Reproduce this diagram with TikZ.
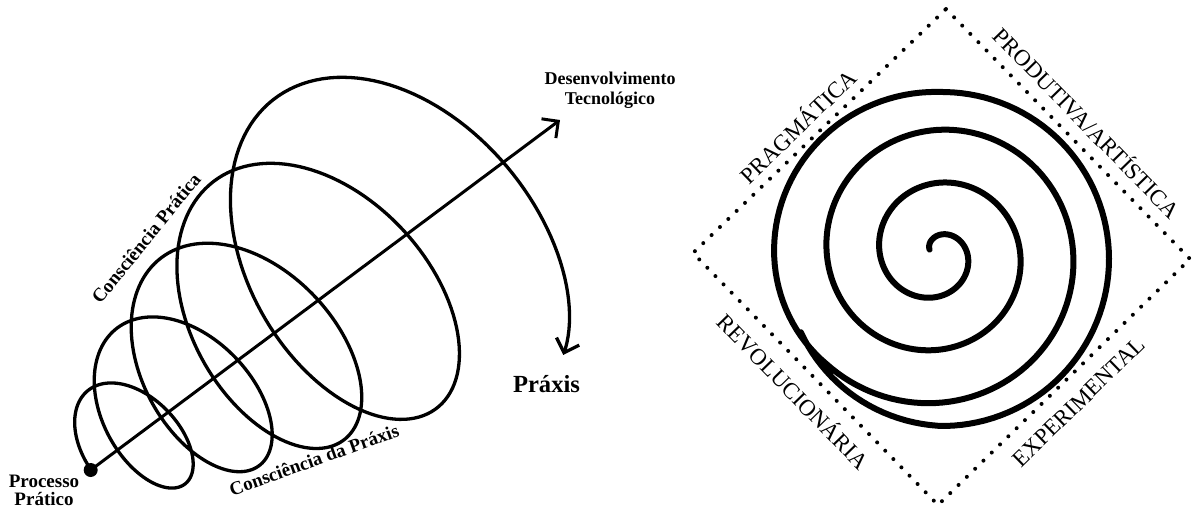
\documentclass[tikz,border=0pt]{standalone}
\usepackage{fontspec}
\setmainfont{Liberation Serif}
\usetikzlibrary{arrows.meta}

\tikzset{
  helix/.style={line width=1.65pt, line cap=round},
  barb/.style={-{Straight Barb[length=6pt,width=12pt]}},
  leftlabel/.style={font=\bfseries\fontsize{9.5}{9}\selectfont, align=center, inner sep=0pt},
  coil/.style={line width=3pt, line cap=round},
  dotline/.style={line width=2pt, line cap=round, dash pattern=on 0pt off 5.8pt},
  sidelabel/.style={font=\fontsize{11.5}{12}\selectfont, inner sep=0pt, sloped,
    text height=7.6pt, text depth=0pt}
}

\begin{document}
\begin{tikzpicture}[x=0.5pt,y=0.5pt,
  declare function={
    hs(\x)=32.4+32.15*\x+1.2*\x*\x+(36.6+10*\x)*sin(180*\x)+15.4*exp(-(\x+0.5));
    hr(\x)=60+15*\x+14*max(\x-8,0)*max(\x-8,0);
    hy(\x)=hr(\x)*cos(180*\x)+8*(1-exp(-2*(\x+0.5)));
    bw(\x)=min(max((\x-10.5)/1.5,0),1);
    br(\x)=(1-bw(\x))*(17.25+13.25*\x)+bw(\x)*167-8*min(max((\x-14)/0.7,0),1);
  }]
\useasboundingbox (0,0) rectangle (1193,511);

% left: praxis helix
\coordinate (dot) at (90.7,41);
\coordinate (tip) at (560,391);
\begin{scope}[shift={(dot)}, rotate=36.67]
  \draw[helix, barb] plot[domain=-0.5:8.92, samples=600, variable=\x] ({hs(\x)},{hy(\x)});
\end{scope}
\draw[line width=1.5pt, barb] (dot) -- (tip);
\fill (dot) circle (7);

\node[leftlabel] (proc) at (44,20.5) {Processo\\Prático};
\node[leftlabel, font=\bfseries\fontsize{9}{10}\selectfont] (tecno) at (610,421) {Desenvolvimento\\Tecnológico};
\node[leftlabel, font=\bfseries\fontsize{12.3}{13}\selectfont] (praxis) at (546.5,127) {Práxis};
\node[leftlabel, rotate=51] (cprat) at (146,273) {Consciência Prática};
\node[leftlabel, rotate=19.6] (cpraxis) at (314,51) {Consciência da Práxis};

% right: spiral inside dotted diamond
\coordinate (dT) at (946,502);
\coordinate (dR) at (1190,252);
\coordinate (dB) at (938,6);
\coordinate (dL) at (693,258);
\draw[dotline] (dT) -- (dR) -- (dB) -- (dL) -- cycle;

\coordinate (coilc) at (936.7,257.8);
\begin{scope}[shift={(coilc)}]
  \draw[coil] plot[domain=-0.7:14.7, samples=500, variable=\x]
    ({5.3*bw(\x)+br(\x)*sin(90*\x)},{-5.8*bw(\x)+br(\x)*cos(90*\x)});
\end{scope}

\path (dL) -- (dT) node[sidelabel, pos=0.465, above=4.7pt] (prag) {PRAGMÁTICA};
\path (dT) -- (dR) node[sidelabel, pos=0.515, above=6.2pt] (prod) {PRODUTIVA/ARTÍSTICA};
\path (dL) -- (dB) node[sidelabel, pos=0.482, below=8.7pt] (revo) {REVOLUCIONÁRIA};
\path (dB) -- (dR) node[sidelabel, pos=0.49, below=8.2pt] (expe) {EXPERIMENTAL};
\end{tikzpicture}
\end{document}
